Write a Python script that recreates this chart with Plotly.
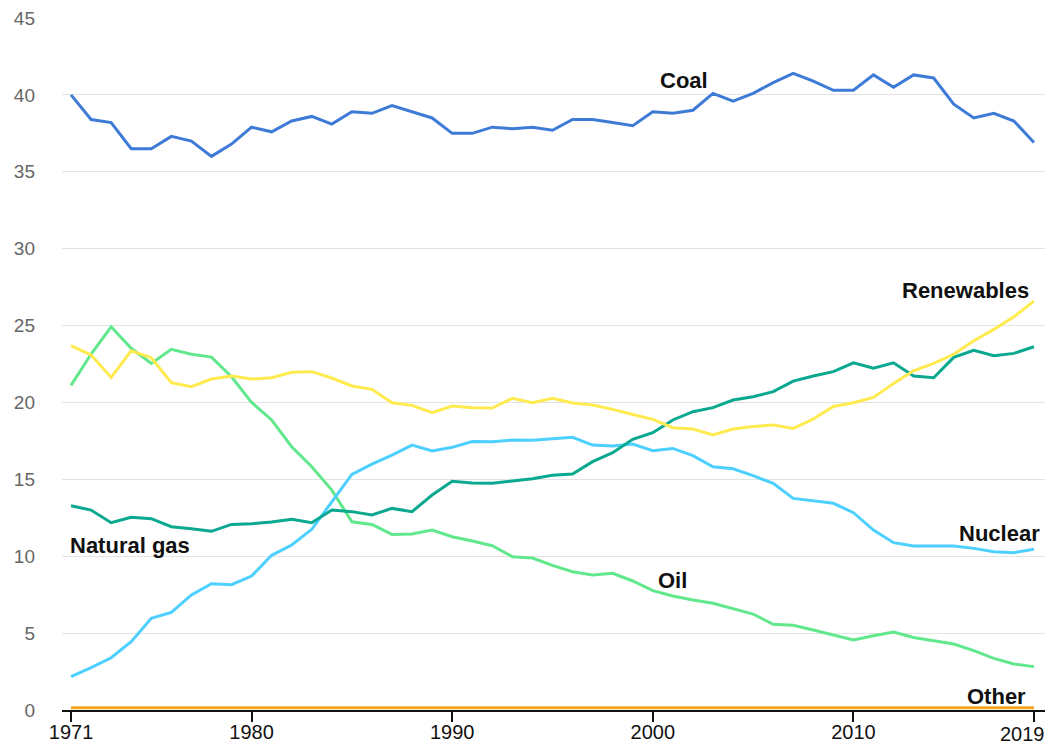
import plotly.graph_objects as go

years = list(range(1971, 2020))

coal = [40.0, 38.4, 38.2, 36.5, 36.5, 37.3, 37.0, 36.0, 36.8, 37.9,
        37.6, 38.3, 38.6, 38.1, 38.9, 38.8, 39.3, 38.9, 38.5, 37.5,
        37.5, 37.9, 37.8, 37.9, 37.7, 38.4, 38.4, 38.2, 38.0, 38.9,
        38.8, 39.0, 40.1, 39.6, 40.1, 40.8, 41.4, 40.9, 40.3, 40.3,
        41.3, 40.5, 41.3, 41.1, 39.4, 38.5, 38.8, 38.3, 36.9]

renewables = [23.69, 23.08, 21.63, 23.36, 22.91, 21.28, 21.02, 21.52, 21.72, 21.52,
              21.61, 21.96, 22.0, 21.59, 21.07, 20.85, 19.98, 19.81, 19.33, 19.77,
              19.66, 19.64, 20.27, 19.98, 20.27, 19.96, 19.83, 19.55, 19.22, 18.9,
              18.36, 18.27, 17.88, 18.27, 18.44, 18.53, 18.31, 18.92, 19.74, 19.98,
              20.33, 21.24, 22.06, 22.54, 23.13, 24.01, 24.75, 25.57, 26.59]

oil = [21.11, 23.15, 24.92, 23.52, 22.54, 23.45, 23.13, 22.95, 21.67, 20.0,
       18.86, 17.12, 15.82, 14.3, 12.24, 12.07, 11.42, 11.44, 11.7, 11.27,
       10.99, 10.68, 9.97, 9.88, 9.4, 8.99, 8.78, 8.89, 8.39, 7.76,
       7.41, 7.15, 6.94, 6.61, 6.24, 5.57, 5.51, 5.2, 4.88, 4.55,
       4.83, 5.07, 4.72, 4.49, 4.29, 3.86, 3.36, 2.99, 2.82]

natural_gas = [13.28, 13.0, 12.18, 12.53, 12.44, 11.92, 11.79, 11.62, 12.07, 12.11,
               12.22, 12.4, 12.18, 13.0, 12.9, 12.68, 13.11, 12.9, 13.98, 14.87,
               14.76, 14.74, 14.89, 15.04, 15.26, 15.34, 16.15, 16.73, 17.6, 18.03,
               18.86, 19.4, 19.66, 20.16, 20.37, 20.7, 21.39, 21.72, 22.0, 22.58,
               22.22, 22.58, 21.72, 21.61, 22.93, 23.39, 23.04, 23.19, 23.62]

nuclear = [2.17, 2.75, 3.4, 4.44, 5.96, 6.35, 7.48, 8.21, 8.15, 8.71,
           10.06, 10.73, 11.75, 13.54, 15.32, 15.99, 16.58, 17.23, 16.84, 17.08,
           17.46, 17.45, 17.56, 17.54, 17.63, 17.73, 17.23, 17.17, 17.3, 16.86,
           17.01, 16.54, 15.82, 15.69, 15.24, 14.74, 13.76, 13.61, 13.44, 12.83,
           11.7, 10.88, 10.66, 10.66, 10.66, 10.51, 10.29, 10.23, 10.45]

other = [0.15] * 49

series = [
    ("Other", other, "#F5A623"),
    ("Oil", oil, "#62E88C"),
    ("Nuclear", nuclear, "#4DD0FF"),
    ("Natural gas", natural_gas, "#0AA88E"),
    ("Renewables", renewables, "#FFEB4F"),
    ("Coal", coal, "#3E7BD6"),
]

x_tickvals = [1971, 1980, 1990, 2000, 2010, 2019]
x_ticktext = ["1971", "1980", "1990", "2000", "2010", ""]
last_year_label = "2019"
y_tickvals = [0, 5, 10, 15, 20, 25, 30, 35, 40, 45]

fig = go.Figure()
for name, vals, color in series:
    fig.add_trace(go.Scatter(x=years, y=vals, mode="lines", name=name,
                             line=dict(color=color, width=3), showlegend=False,
                             hoverinfo="x+y+name"))

label_font = dict(family="Liberation Sans, Arial, sans-serif", size=22, color="#111111")
annots = [
    ("Coal", 2001.56, 40.96, "center"),
    ("Renewables", 2018.85, 27.3, "right"),
    ("Natural gas", 1970.85, 10.73, "left"),
    ("Nuclear", 2019.4, 11.5, "right"),
    ("Oil", 2001.0, 8.45, "center"),
    ("Other", 2018.7, 0.85, "right"),
]
for text, ax, ay, anchor in annots:
    fig.add_annotation(x=ax, y=ay, xref="x", yref="y", text="<b>%s</b>" % text,
                       showarrow=False, xanchor=anchor, yanchor="middle", font=label_font)

# last x tick label, pulled left so it stays inside the frame (as in the reference)
fig.add_annotation(x=x_tickvals[-1], y=0, xref="x", yref="paper", text=last_year_label,
                   showarrow=False, xanchor="center", yanchor="middle",
                   xshift=-11, yshift=-24,
                   font=dict(family="Liberation Sans, Arial, sans-serif", size=20,
                             color="#111111"))

fig.update_layout(
    width=1052, height=745,
    margin=dict(l=62, r=7, t=18, b=35, autoexpand=False),
    paper_bgcolor="white", plot_bgcolor="white",
    font=dict(family="Liberation Sans, Arial, sans-serif"),
    xaxis=dict(range=[1970.55, 2019.55], tickvals=x_tickvals,
               ticktext=x_ticktext, automargin=False,
               showgrid=False, zeroline=False, showline=True, linecolor="#111111",
               linewidth=1.5, ticks="outside", ticklen=10, tickwidth=1.5,
               tickcolor="#111111", tickfont=dict(size=20, color="#111111"),
               ticklabelstandoff=-7, ticklabeloverflow="allow"),
    yaxis=dict(range=[0, 45], tickvals=y_tickvals, showgrid=True, automargin=False,
               gridcolor="#e3e3e3", gridwidth=1, zeroline=False, showline=False,
               ticks="", tickfont=dict(size=19, color="#666666"),
               ticklabelstandoff=26, ticklabeloverflow="allow"),
)

fig.write_html(
    "out.html",
    config={"displayModeBar": False},
    post_script=(
        "document.documentElement.style.overflow='hidden';"
        "document.body.style.margin='0';document.body.style.overflow='hidden';"
    ),
)
